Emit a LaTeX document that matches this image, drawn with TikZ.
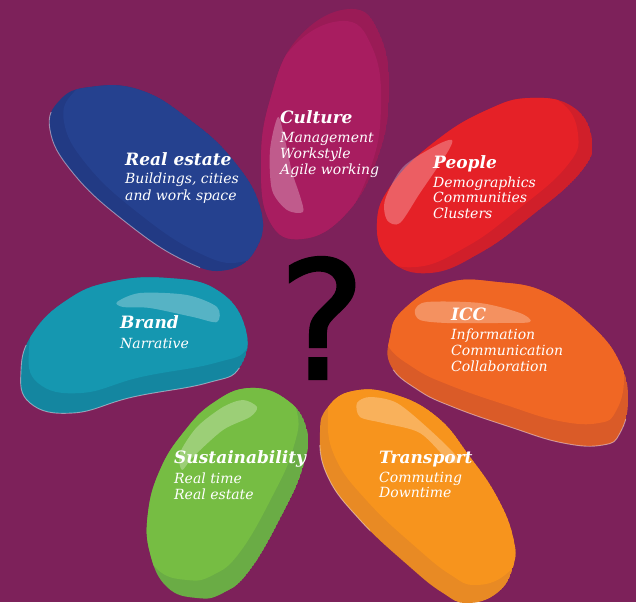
\documentclass[tikz,border=0pt]{standalone}
\usepackage{fontspec}
\setmainfont{DejaVu Serif}
\newfontfamily\markfont{DejaVu Sans}[FakeBold=1.6]
\definecolor{bgpurple}{HTML}{7D215A}
\definecolor{cultureMain}{HTML}{A81D60}
\definecolor{cultureDark}{HTML}{9A1B56}
\definecolor{estateMain}{HTML}{25418F}
\definecolor{estateDark}{HTML}{223A84}
\definecolor{peopleMain}{HTML}{E52127}
\definecolor{peopleDark}{HTML}{D01F2A}
\definecolor{brandMain}{HTML}{1597B0}
\definecolor{brandDark}{HTML}{1486A0}
\definecolor{iccMain}{HTML}{F06724}
\definecolor{iccDark}{HTML}{DA5B28}
\definecolor{transMain}{HTML}{F7941D}
\definecolor{transDark}{HTML}{E88A24}
\definecolor{sustMain}{HTML}{76BD43}
\definecolor{sustDark}{HTML}{6AAC45}

% petal outlines (1 unit = 1pt, y runs downwards)
\def\shapeCulture{plot[smooth cycle, tension=0.75] coordinates {(350,9) (380,35) (389,95) (377,160) (345,215) (302,239) (270,222) (261,165) (270,100) (298,38)}}
\def\shapeEstate{plot[smooth cycle, tension=0.75] coordinates {(50,130) (60,100) (90,87) (140,90) (190,120) (233,160) (260,207) (257,247) (227,270) (183,260) (123,220) (73,173)}}
\def\shapePeople{plot[smooth cycle, tension=0.75] coordinates {(377,223) (393,183) (437,140) (487,110) (530,98) (573,107) (592,140) (580,173) (530,217) (480,253) (430,273) (390,260)}}
\def\shapeBrand{plot[smooth cycle, tension=0.75] coordinates {(21,370) (33,333) (67,300) (110,282) (167,278) (217,290) (245,327) (240,367) (207,383) (133,397) (73,413) (30,403)}}
\def\shapeICC{plot[smooth cycle, tension=0.75] coordinates {(390,337) (403,310) (447,283) (497,282) (547,293) (593,327) (620,363) (628,400) (620,433) (603,445) (563,443) (510,427) (453,407) (418,390) (391,366)}}
\def\shapeTrans{plot[smooth cycle, tension=0.75] coordinates {(320,432) (328,407) (353,391) (393,394) (437,417) (470,457) (497,497) (513,537) (513,567) (497,593) (467,603) (443,593) (410,567) (360,520) (327,475)}}
\def\shapeSust{plot[smooth cycle, tension=0.75] coordinates {(250,388) (287,400) (307,430) (303,467) (283,513) (250,570) (223,593) (197,598) (167,587) (150,553) (148,513) (160,470) (183,433) (213,403)}}

% a petal: darker rim, lighter body shifted away from the rim
\newcommand\petalblob[5]{%
  \begin{scope}
    \clip #1;
    \fill[#2] #1;
    \fill[#3, shift={(#4,#5)}] #1;
  \end{scope}}

% a thin pale edge along part of a petal outline
\newcommand\paleedge[2]{%
  \begin{scope}
    \clip #2;
    \draw[rimline] #1;
  \end{scope}}

\tikzset{
  gloss/.style={fill=white, opacity=0.28},
  rimline/.style={draw=white, draw opacity=0.45, line width=0.9pt},
  headtext/.style={anchor=base west, inner sep=0pt, text=white,
    font=\fontsize{17}{20}\selectfont\bfseries\itshape},
  subtext/.style={anchor=base west, inner sep=0pt, text=white,
    font=\fontsize{14}{16}\selectfont\itshape},
}

\begin{document}
\begin{tikzpicture}[x=1pt,y=-1pt]
\fill[bgpurple] (0,0) rectangle (636,602);
\useasboundingbox (0,0) rectangle (636,602);

% petals
\petalblob{\shapeCulture}{cultureDark}{cultureMain}{-8}{12}
\petalblob{\shapeEstate}{estateDark}{estateMain}{14}{-8}
\petalblob{\shapePeople}{peopleDark}{peopleMain}{-14}{-6}
\petalblob{\shapeBrand}{brandDark}{brandMain}{8}{-20}
\petalblob{\shapeICC}{iccDark}{iccMain}{-4}{-22}
\petalblob{\shapeTrans}{transDark}{transMain}{8}{-18}
\petalblob{\shapeSust}{sustDark}{sustMain}{-10}{-18}

% pale rims on the lower edges
\paleedge{\shapeEstate}{(0,112) -- (52,112) -- (200,250) -- (200,290) -- (0,290) -- cycle}
\paleedge{\shapeBrand}{(0,345) -- (25,345) -- (240,368) -- (240,430) -- (0,430) -- cycle}
\paleedge{\shapeICC}{(385,368) -- (630,420) -- (630,460) -- (385,460) -- cycle}
\paleedge{\shapeTrans}{(300,445) -- (332,445) -- (372,535) -- (300,535) -- cycle}

% glossy highlights
\fill[gloss] plot[smooth cycle] coordinates {(278,117) (270,150) (272,190) (287,210) (303,212) (300,196) (292,172) (285,140)};
\fill[gloss] plot[smooth cycle] coordinates {(452,140) (447,153) (420,193) (400,223) (387,220) (385,200) (403,167) (437,145)};
\fill[gloss] plot[smooth cycle] coordinates {(117,302) (140,293) (187,295) (217,307) (217,322) (193,317) (150,308) (123,307)};
\fill[gloss] plot[smooth cycle] coordinates {(415,310) (427,302) (480,303) (520,313) (530,322) (497,323) (447,323) (420,320)};
\fill[gloss] plot[smooth cycle] coordinates {(357,403) (370,397) (397,403) (430,430) (457,457) (450,462) (420,433) (383,423) (360,417)};
\fill[gloss] plot[smooth cycle] coordinates {(257,407) (250,417) (223,430) (193,457) (182,470) (180,453) (197,427) (223,407) (243,400)};

% the question
\node[inner sep=0pt, text=black, font=\markfont\fontsize{164}{164}\selectfont] (question) at (322,318) {?};

% labels
\node[headtext] (cultureH) at (280,123) {Culture};
\node[subtext] (cultureA) at (280,142) {Management};
\node[subtext] (cultureB) at (280,158) {Workstyle};
\node[subtext] (cultureC) at (280,174) {Agile working};

\node[headtext] (estateH) at (125,165) {Real estate};
\node[subtext] (estateA) at (125,183) {Buildings, cities};
\node[subtext] (estateB) at (125,200) {and work space};

\node[headtext] (peopleH) at (433,168) {People};
\node[subtext] (peopleA) at (433,187) {Demographics};
\node[subtext] (peopleB) at (433,202) {Communities};
\node[subtext] (peopleC) at (433,218) {Clusters};

\node[headtext] (brandH) at (120,328) {Brand};
\node[subtext] (brandA) at (120,348) {Narrative};

\node[headtext] (iccH) at (451,320) {ICC};
\node[subtext] (iccA) at (451,339) {Information};
\node[subtext] (iccB) at (451,355) {Communication};
\node[subtext] (iccC) at (451,371) {Collaboration};

\node[headtext] (transH) at (379,463) {Transport};
\node[subtext] (transA) at (379,482) {Commuting};
\node[subtext] (transB) at (379,497) {Downtime};

\node[headtext] (sustH) at (174,463) {Sustainability};
\node[subtext] (sustA) at (174,483) {Real time};
\node[subtext] (sustB) at (174,499) {Real estate};
\end{tikzpicture}
\end{document}
